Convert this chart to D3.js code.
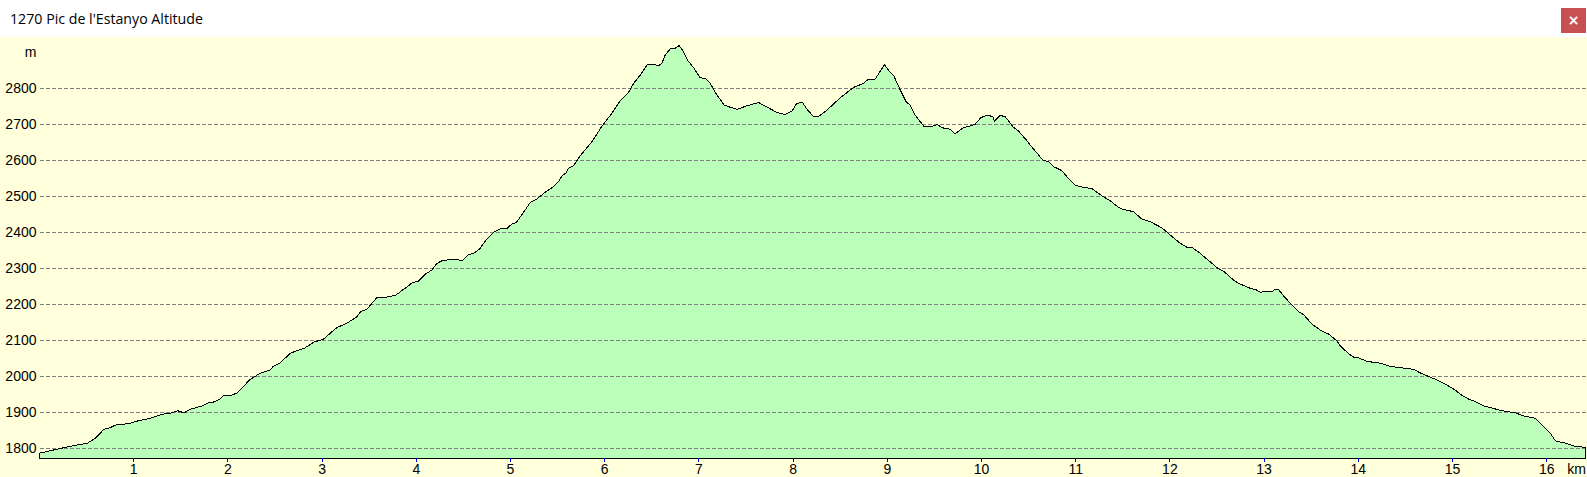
<!DOCTYPE html>
<html>
<head>
<meta charset="utf-8">
<title>1270 Pic de l'Estanyo Altitude</title>
<script src="https://cdn.jsdelivr.net/npm/d3@7"></script>
<style>
html, body { margin: 0; padding: 0; background: #fff; overflow: hidden; }
svg { display: block; }
</style>
</head>
<body>
<script>
var titleText = "1270 Pic de l'Estanyo Altitude"
var kmTicks = [1,2,3,4,5,6,7,8,9,10,11,12,13,14,15,16]
var altTicks = [1800,1900,2000,2100,2200,2300,2400,2500,2600,2700,2800]

var distanceKm = [0,.185,.344,.510,.591,.644,.679,.751,.804,.945,1.034,1.175,1.299,1.406,1.465,1.536,1.600,1.724,1.794,1.847,1.911,1.961,2.042,2.102,2.166,2.219,
    2.237,2.343,2.449,2.478,2.555,2.661,2.732,2.810,2.909,3.015,3.086,3.157,3.263,3.369,3.412,3.476,3.529,3.582,3.670,3.783,3.864,3.917,3.953,4.023,
    4.094,4.166,4.219,4.282,4.360,4.431,4.495,4.554,4.607,4.671,4.749,4.827,4.891,4.968,5.015,5.060,5.138,5.209,5.280,5.368,5.456,5.510,5.546,5.591,5.616,5.669,5.740,5.864,5.970,
    6.076,6.165,6.253,6.306,6.377,6.448,6.518,6.571,6.607,6.642,6.696,6.749,6.791,6.837,6.879,6.943,7.014,7.067,7.120,7.191,7.269,7.332,7.403,7.510,7.633,7.722,7.828,7.916,7.987,
    8.040,8.100,8.146,8.217,8.270,8.359,8.500,8.641,8.747,8.800,8.871,8.970,9.023,9.066,9.137,9.200,9.243,9.296,9.349,9.392,9.473,9.533,9.580,9.668,9.721,9.809,9.862,9.933,9.994,
    10.057,10.121,10.138,10.199,10.251,10.333,10.393,10.482,10.517,10.652,10.711,10.764,10.853,10.906,10.995,11.048,11.172,11.278,11.366,11.444,11.501,11.614,11.703,11.791,11.915,
    12.003,12.110,12.180,12.234,12.322,12.516,12.577,12.675,12.728,12.852,12.905,12.966,13.012,13.083,13.118,13.153,13.206,13.295,13.365,13.418,13.507,13.596,13.684,13.773,13.808,13.896,13.949,
    14.002,14.091,14.232,14.338,14.463,14.586,14.657,14.856,14.962,15.032,15.085,15.174,15.244,15.333,15.527,15.669,15.758,15.881,15.970,16.040,16.093,16.182,16.288,16.412]
var altitudeM = [1787,1798,1807,1815,1828,1842,1853,1858,1865,1869,1876,1884,1895,1899,1905,1899,1909,1918,1927,1929,1937,1948,1948,1955,1972,1988,
    1992,2009,2018,2027,2038,2064,2072,2078,2095,2104,2120,2136,2148,2166,2181,2187,2203,2219,2220,2226,2242,2252,2260,2265,
    2284,2296,2314,2323,2324,2324,2323,2339,2342,2354,2382,2402,2410,2412,2424,2427,2456,2483,2493,2512,2527,2541,2557,2566,2578,2585,2613,2652,2695,
    2731,2766,2789,2814,2837,2865,2868,2863,2870,2893,2910,2912,2919,2902,2879,2858,2830,2828,2814,2782,2754,2748,2742,2752,2761,2749,2733,2728,2737,
    2759,2761,2743,2722,2722,2740,2774,2803,2814,2826,2826,2866,2847,2837,2796,2763,2754,2726,2708,2694,2695,2700,2691,2687,2674,2692,2694,2701,2719,
    2726,2722,2710,2725,2722,2694,2682,2655,2643,2601,2597,2583,2572,2555,2532,2527,2522,2502,2488,2472,2464,2458,2437,2430,2413,
    2393,2370,2359,2359,2342,2299,2291,2268,2259,2245,2242,2234,2237,2236,2242,2242,2224,2199,2180,2172,2146,2129,2118,2099,2085,2064,2054,
    2052,2042,2037,2028,2024,2020,2010,1988,1973,1962,1950,1937,1930,1918,1905,1899,1890,1884,1860,1842,1821,1816,1807,1803]

var points = distanceKm.map(function (d, i) { return {km: d, alt: altitudeM[i]} })

var width = 1587,
    height = 477,
    plotTop = 37,
    left = 39.5,
    right = 1585.5,
    bottom = 458.5;

var svg = d3.select('body').append('svg')
    .attr('width', width)
    .attr('height', height)

var xScale = d3.scaleLinear()
    .domain([0, 16.412])
    .range([left, right])

var yScale = d3.scaleLinear()
    .domain([1800, 2800])
    .range([448.5, 88.5])

var baseAlt = yScale.invert(bottom)

// window title bar and yellow plot background
svg.append('rect')
    .attr('width', width)
    .attr('height', plotTop)
    .attr('fill', '#fff')

svg.append('rect')
    .attr('y', plotTop)
    .attr('width', width)
    .attr('height', height - plotTop)
    .attr('fill', '#ffffdc')

svg.append('text')
    .attr('x', 10)
    .attr('y', 24)
    .attr('font-family', '"Open Sans", "Noto Sans", sans-serif')
    .attr('font-size', 14.2)
    .attr('fill', '#000')
    .text(titleText)

svg.append('rect')
    .attr('x', 1561)
    .attr('y', 8)
    .attr('width', 25)
    .attr('height', 25)
    .attr('fill', '#c75050')

svg.append('text')
    .attr('x', 1573.5)
    .attr('y', 25)
    .attr('text-anchor', 'middle')
    .attr('font-family', '"DejaVu Sans", sans-serif')
    .attr('font-size', 14)
    .attr('font-weight', 'bold')
    .attr('fill', '#fff')
    .text('×')

// area under the profile
var area = d3.area()
    .x(function (d) { return xScale(d.km) })
    .y0(yScale(baseAlt))
    .y1(function (d) { return yScale(d.alt) })

svg.append('path')
    .datum(points)
    .attr('d', area)
    .attr('fill', '#bbffbb')

// y axis labels + dashed grid
var yAxis = d3.axisLeft(yScale)
    .tickValues(altTicks)
    .tickFormat(d3.format('d'))
    .tickSize(0)
    .tickPadding(3)
    .offset(0)

var yG = svg.append('g')
    .attr('transform', 'translate(' + left + ',0)')
    .call(yAxis)

yG.select('.domain').remove()

yG.selectAll('.tick text')
    .attr('font-family', '"Liberation Sans", Arial, sans-serif')
    .attr('font-size', 14)
    .attr('fill', '#000')

yG.selectAll('.tick line')
    .attr('x2', right + 1 - left)
    .attr('stroke', '#808080')
    .attr('stroke-dasharray', '4,2')
    .attr('shape-rendering', 'crispEdges')

svg.append('text')
    .attr('x', 36.5)
    .attr('y', 57)
    .attr('text-anchor', 'end')
    .attr('font-family', '"Liberation Sans", Arial, sans-serif')
    .attr('font-size', 14)
    .attr('fill', '#000')
    .text('m')

// profile outline, closed down to the base on both ends
var outline = [{km: 0, alt: baseAlt}].concat(points, [{km: 16.412, alt: baseAlt}])

svg.append('path')
    .datum(outline)
    .attr('d', d3.line()
        .x(function (d) { return xScale(d.km) })
        .y(function (d) { return yScale(d.alt) }))
    .attr('fill', 'none')
    .attr('stroke', '#000')
    .attr('stroke-width', 1)
    .attr('shape-rendering', 'crispEdges')

// x axis
var xAxis = d3.axisBottom(xScale)
    .tickValues(kmTicks)
    .tickFormat(d3.format('d'))
    .tickSizeOuter(0)
    .tickSizeInner(3)
    .tickPadding(3)
    .offset(0)

var xG = svg.append('g')
    .attr('transform', 'translate(0,' + bottom + ')')
    .call(xAxis)

xG.select('.domain')
    .attr('stroke', '#000')
    .attr('shape-rendering', 'crispEdges')

xG.selectAll('.tick line')
    .attr('y1', -1)
    .attr('stroke', '#0000c8')
    .attr('shape-rendering', 'crispEdges')

xG.selectAll('.tick text')
    .attr('font-family', '"Liberation Sans", Arial, sans-serif')
    .attr('font-size', 14)
    .attr('fill', '#000')

svg.append('text')
    .attr('x', 1586)
    .attr('y', 474)
    .attr('text-anchor', 'end')
    .attr('font-family', '"Liberation Sans", Arial, sans-serif')
    .attr('font-size', 14)
    .attr('fill', '#000')
    .text('km')
</script>
</body>
</html>
